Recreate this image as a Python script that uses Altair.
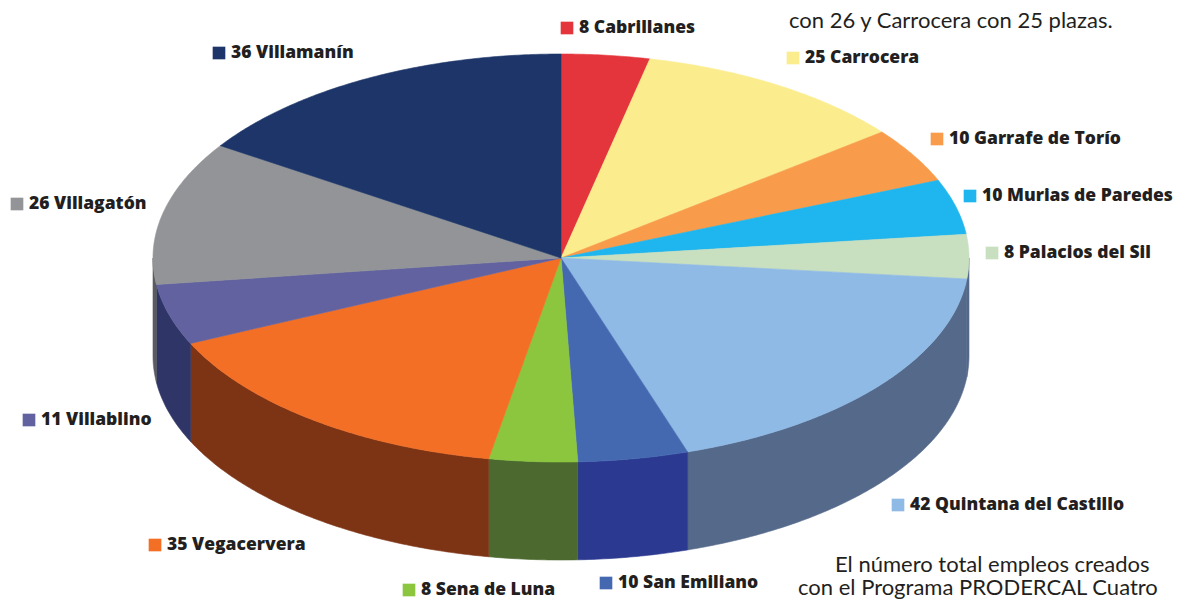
import math
import altair as alt

NAMES = ["Cabrillanes", "Carrocera", "Garrafe de Torío", "Murias de Paredes", "Palacios del Sil",
         "Quintana del Castillo", "San Emiliano", "Sena de Luna", "Vegacervera", "Villablino",
         "Villagatón", "Villamanín"]
VALUES = [8, 25, 10, 10, 8, 42, 10, 8, 35, 11, 26, 36]
TOP_COLORS = ["#e5353c", "#fbec8d", "#f89c4b", "#1fb5ee", "#c8dfc0", "#8fbae5",
              "#4569b1", "#8cc63f", "#f36f25", "#61629f", "#929497", "#1d3568"]
SIDE_COLORS = ["#8a2226", "#a89a55", "#a86a30", "#157aa0", "#55698a", "#55698a",
               "#2b3990", "#4c6a2f", "#7d3415", "#2f3566", "#5a5c60", "#102040"]
LABEL_X = [579, 805, 949, 982, 1004, 910, 618, 421, 167, 41, 29, 231]
LABEL_Y = [28, 58, 139, 196, 253, 505, 583, 590, 545, 420, 204, 53]
BODY_TEXT = ["con 26 y Carrocera con 25 plazas.", "El número total empleos creados",
             "con el Programa PRODERCAL Cuatro"]
BODY_X = [789, 835, 798]
BODY_Y = [21, 565, 588]

# page margin offset and the tilted disc's geometry, in window pixels
M = 8
CX, CY, RX, RY, DEPTH = 561 - M, 258 - M, 408, 204, 98
TOTAL = sum(VALUES)


def rim(deg, dy=0.0):
    a = math.radians(deg)
    return [CX + RX * math.sin(a), CY - RY * math.cos(a) + dy]


def sweep(a0, a1):
    n = max(2, int(abs(a1 - a0)) * 2)
    return [a0 + (a1 - a0) * i / n for i in range(n + 1)]


def feature(ring, color):
    return {"type": "Feature", "geometry": {"type": "Polygon", "coordinates": [ring]},
            "properties": {"color": color}}


tops, sides = [], []
cum = 0
for v, tc, sc in zip(VALUES, TOP_COLORS, SIDE_COLORS):
    a0, a1 = cum / TOTAL * 360, (cum + v) / TOTAL * 360
    cum += v
    ring = [[CX, CY]] + [rim(a) for a in sweep(a0, a1)] + [[CX, CY]]
    tops.append(feature(ring, tc))
    s0, s1 = max(a0, 90), min(a1, 270)
    if s1 > s0:
        pts = sweep(s0, s1)
        wall = [rim(a) for a in pts] + [rim(a, DEPTH) for a in reversed(pts)]
        wall.append(wall[0])
        sides.append(feature(wall, sc))

W, H = 1181 - 2 * M, 610 - 2 * M
proj = alt.Projection(type="identity", scale=1, translate=[0, 0])


def shape(feats):
    return alt.Chart(alt.Data(values=feats)).mark_geoshape(strokeWidth=0.6).encode(
        fill=alt.Color("properties.color:N", scale=None),
        stroke=alt.Color("properties.color:N", scale=None),
    ).project(**proj.to_dict())


labels = [{"t": f"{v} {n}", "lon": x - M, "lat": y - M, "sx": x - M - 12, "c": c}
          for v, n, x, y, c in zip(VALUES, NAMES, LABEL_X, LABEL_Y, TOP_COLORS)]
body = [{"t": t, "lon": x - M, "lat": y - M} for t, x, y in zip(BODY_TEXT, BODY_X, BODY_Y)]

squares = alt.Chart(alt.Data(values=labels)).mark_square(size=160, opacity=1).encode(
    longitude="sx:Q", latitude="lat:Q", fill=alt.Color("c:N", scale=None)
).project(**proj.to_dict())
label_text = alt.Chart(alt.Data(values=labels)).mark_text(
    align="left", baseline="middle", font="Open Sans", fontWeight=800, fontSize=17.5,
    color="#231f20"
).encode(longitude="lon:Q", latitude="lat:Q", text="t:N").project(**proj.to_dict())
body_text = alt.Chart(alt.Data(values=body)).mark_text(
    align="left", baseline="middle", font="Lato", fontSize=22, color="#231f20"
).encode(longitude="lon:Q", latitude="lat:Q", text="t:N").project(**proj.to_dict())

chart = alt.layer(shape(sides), shape(tops), squares, label_text, body_text).properties(
    width=W, height=H, padding=0, autosize=alt.AutoSizeParams(type="none"), background="white"
).configure_view(stroke=None)

chart.save("out.html", embed_options={"renderer": "svg", "actions": False})
